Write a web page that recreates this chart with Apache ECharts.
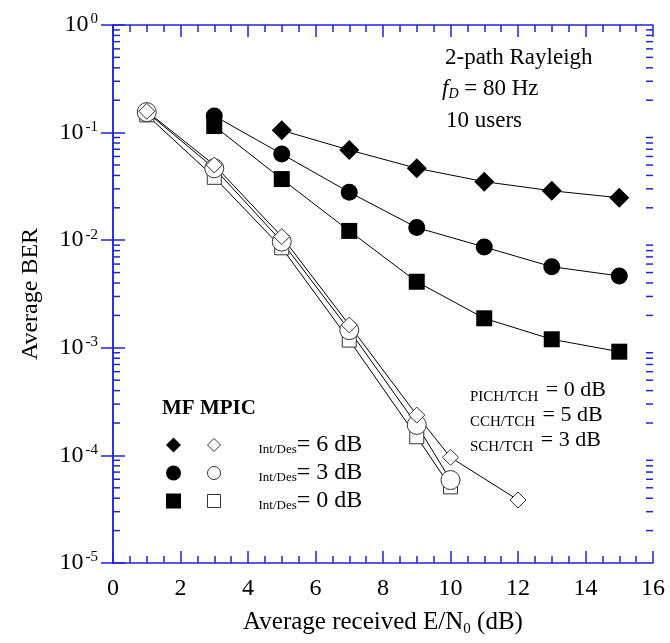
<!DOCTYPE html>
<html><head><meta charset="utf-8">
<script src="https://cdn.jsdelivr.net/npm/echarts@6/dist/echarts.min.js"></script>
<style>html,body{margin:0;padding:0;background:#fff}#c{width:670px;height:643px}</style>
</head><body><div id="c"></div>
<script>
// ---- data ----
const mf6X = [5, 7, 9, 11, 13, 15];
const mf6Y = [0.105, 0.0689, 0.0466, 0.035, 0.0288, 0.0248];
const mf3X = [3, 5, 7, 9, 11, 13, 15];
const mf3Y = [0.143, 0.0633, 0.0279, 0.0131, 0.00865, 0.00567, 0.00465];
const mf0X = [3, 5, 7, 9, 11, 13, 15];
const mf0Y = [0.115, 0.037, 0.0122, 0.00411, 0.00188, 0.0012, 0.00092];
const mpic6X = [1, 3, 5, 7, 9, 10, 12];
const mpic6Y = [0.158, 0.05, 0.0108, 0.00163, 0.000237, 0.000096, 0.0000385];
const mpic3X = [1, 3, 5, 7, 9, 10];
const mpic3Y = [0.155, 0.0466, 0.0097, 0.00146, 0.000192, 0.000059];
const mpic0X = [1, 3, 5, 7, 9, 10];
const mpic0Y = [0.146, 0.0384, 0.0085, 0.00118, 0.000149, 0.000051];
const xMin = 0, xMax = 16, xStep = 2;
const yMin = 1e-5, yMax = 1;

// ---- helpers ----
const BLUE = '#2222dd';
const FONT = '"Liberation Serif","Times New Roman",serif';
const pairs = (xs, ys) => xs.map((x, i) => [x, ys[i]]);
const yMinor = [];
for (let e = -5; e < 0; e++) for (let m = 2; m <= 9; m++) yMinor.push([xMin, m * Math.pow(10, e)]);

const chart = echarts.init(document.getElementById('c'), null, {renderer: 'canvas'});

function lineSeries(name, data, symbol, size, open) {
  return {
    name, type: 'line', data, symbol, symbolSize: size,
    showSymbol: true, animation: false, clip: false,
    lineStyle: {color: '#000', width: 1},
    itemStyle: open ? {color: '#fff', borderColor: '#333', borderWidth: 1}
                    : {color: '#000', borderColor: '#000', borderWidth: 0}
  };
}

const axisCommon = {
  min: xMin, max: xMax, interval: xStep,
  axisLine: {show: true, onZero: false, lineStyle: {color: BLUE, width: 1.5}},
  axisTick: {show: true, inside: true, length: 12, lineStyle: {color: BLUE, width: 1.5}},
  minorTick: {show: true, splitNumber: 4, length: 7, lineStyle: {color: BLUE, width: 1.5}},
  splitLine: {show: false}
};

const mainTxt = {fontFamily: FONT, fontSize: 22, color: '#000', lineHeight: 28};
const subTxt = {fontFamily: FONT, fontSize: 15, color: '#000', lineHeight: 15, padding: [15, 2, 0, 0]};

const option = {
  backgroundColor: '#fff',
  animation: false,
  grid: {left: 113, top: 25, right: 17, bottom: 80, containLabel: false},
  xAxis: [
    Object.assign({}, axisCommon, {
      type: 'value', position: 'bottom',
      axisLabel: {show: true, margin: 14, fontFamily: FONT, fontSize: 24, color: '#000'},
      name: '{m|Average received E/N}{s|0}{m| (dB)}',
      nameLocation: 'middle', nameGap: 45,
      nameTextStyle: {rich: {
        m: {fontFamily: FONT, fontSize: 25, color: '#000', lineHeight: 28},
        s: {fontFamily: FONT, fontSize: 15, color: '#000', lineHeight: 15, padding: [14, 0, 0, 0]}
      }}
    }),
    Object.assign({}, axisCommon, {type: 'value', position: 'top', axisLabel: {show: false}})
  ],
  yAxis: [
    {
      type: 'log', logBase: 10, min: yMin, max: yMax, position: 'left',
      axisLine: {show: true, lineStyle: {color: BLUE, width: 1.5}},
      axisTick: {show: true, inside: true, length: 12, lineStyle: {color: BLUE, width: 1.5}},
      splitLine: {show: false},
      axisLabel: {
        margin: 15,
        formatter: v => '{b|10}{s|' + Math.round(Math.log10(v)) + '}',
        rich: {
          b: {fontFamily: FONT, fontSize: 24, color: '#000', lineHeight: 26},
          s: {fontFamily: FONT, fontSize: 15, color: '#000', lineHeight: 15, verticalAlign: 'top', padding: [0, 0, 0, 2]}
        }
      },
      name: 'Average BER', nameLocation: 'middle', nameGap: 70, nameRotate: 90,
      nameTextStyle: {fontFamily: FONT, fontSize: 24, color: '#000'}
    },
    {
      type: 'log', logBase: 10, min: yMin, max: yMax, position: 'right',
      axisLine: {show: true, lineStyle: {color: BLUE, width: 1.5}},
      axisTick: {show: true, inside: true, length: 12, lineStyle: {color: BLUE, width: 1.5}},
      splitLine: {show: false},
      axisLabel: {show: false}
    }
  ],
  legend: [
    {
      orient: 'vertical', left: 166, top: 431, padding: 0, itemGap: 0,
      itemWidth: 15, itemHeight: 15, selectedMode: false,
      formatter: () => ' ',
      textStyle: {fontFamily: FONT, fontSize: 22, lineHeight: 28, color: '#000'},
      data: [
        {name: 'MF Int/Des=6 dB', icon: 'diamond'},
        {name: 'MF Int/Des=3 dB', icon: 'circle'},
        {name: 'MF Int/Des=0 dB', icon: 'rect'}
      ]
    },
    {
      orient: 'vertical', left: 207, top: 431, padding: 0, itemGap: 0,
      itemWidth: 13, itemHeight: 13, selectedMode: false,
      formatter: name => '{s|Int/Des}{m|= ' + name.match(/=(\d)/)[1] + ' dB}',
      textStyle: {
        fontFamily: FONT, fontSize: 24, color: '#000', lineHeight: 28,
        rich: {
          m: {fontFamily: FONT, fontSize: 24, color: '#000', lineHeight: 28},
          s: {fontFamily: FONT, fontSize: 13, color: '#000', lineHeight: 13, padding: [10, 0, 0, 33]}
        }
      },
      data: [
        {name: 'MPIC Int/Des=6 dB', icon: 'diamond', itemStyle: {color: '#fff', borderColor: '#333', borderWidth: 1}},
        {name: 'MPIC Int/Des=3 dB', icon: 'circle', itemStyle: {color: '#fff', borderColor: '#333', borderWidth: 1}},
        {name: 'MPIC Int/Des=0 dB', icon: 'rect', itemStyle: {color: '#fff', borderColor: '#333', borderWidth: 1}}
      ]
    }
  ],
  graphic: [
    {type: 'text', x: 162, y: 409, style: {text: 'MF MPIC', font: 'bold 21px ' + FONT, fill: '#000', verticalAlign: 'middle'}},
    {type: 'text', x: 445, y: 58, style: {text: '2-path Rayleigh', font: '23px ' + FONT, fill: '#000', verticalAlign: 'middle'}},
    {type: 'text', x: 442, y: 89, style: {
      text: '{i|f}{d|D}{m| = 80 Hz}', verticalAlign: 'middle',
      rich: {
        i: {fontFamily: FONT, fontStyle: 'italic', fontSize: 23, lineHeight: 28, color: '#000'},
        d: {fontFamily: FONT, fontStyle: 'italic', fontSize: 14, lineHeight: 14, padding: [10, 0, 0, 0], color: '#000'},
        m: {fontFamily: FONT, fontSize: 23, lineHeight: 28, color: '#000'}
      }}},
    {type: 'text', x: 446, y: 121, style: {text: '10 users', font: '23px ' + FONT, fill: '#000', verticalAlign: 'middle'}},
    {type: 'text', x: 470, y: 390, style: {text: '{s|PICH/TCH}{m| = 0 dB}', verticalAlign: 'middle', rich: {m: mainTxt, s: subTxt}}},
    {type: 'text', x: 470, y: 415, style: {text: '{s|CCH/TCH}{m| = 5 dB}', verticalAlign: 'middle', rich: {m: mainTxt, s: subTxt}}},
    {type: 'text', x: 470, y: 440, style: {text: '{s|SCH/TCH}{m| = 3 dB}', verticalAlign: 'middle', rich: {m: mainTxt, s: subTxt}}}
  ],
  series: [
    {
      type: 'custom', coordinateSystem: 'cartesian2d', xAxisIndex: 0, yAxisIndex: 0,
      silent: true, clip: false, z: 1, data: yMinor,
      renderItem: (params, api) => {
        const v = api.value(1);
        const l = api.coord([xMin, v]);
        const r = api.coord([xMax, v]);
        return {type: 'group', children: [
          {type: 'line', shape: {x1: l[0], y1: l[1], x2: l[0] + 7, y2: l[1]}, style: {stroke: BLUE, lineWidth: 1.5}},
          {type: 'line', shape: {x1: r[0], y1: r[1], x2: r[0] - 7, y2: r[1]}, style: {stroke: BLUE, lineWidth: 1.5}}
        ]};
      }
    },
    lineSeries('MF Int/Des=0 dB', pairs(mf0X, mf0Y), 'rect', 16, false),
    lineSeries('MF Int/Des=3 dB', pairs(mf3X, mf3Y), 'circle', 17, false),
    lineSeries('MF Int/Des=6 dB', pairs(mf6X, mf6Y), 'diamond', 20, false),
    lineSeries('MPIC Int/Des=0 dB', pairs(mpic0X, mpic0Y), 'rect', 14, true),
    lineSeries('MPIC Int/Des=3 dB', pairs(mpic3X, mpic3Y), 'circle', 19, true),
    lineSeries('MPIC Int/Des=6 dB', pairs(mpic6X, mpic6Y), 'diamond', 16, true)
  ]
};
chart.setOption(option);
</script>
</body></html>
